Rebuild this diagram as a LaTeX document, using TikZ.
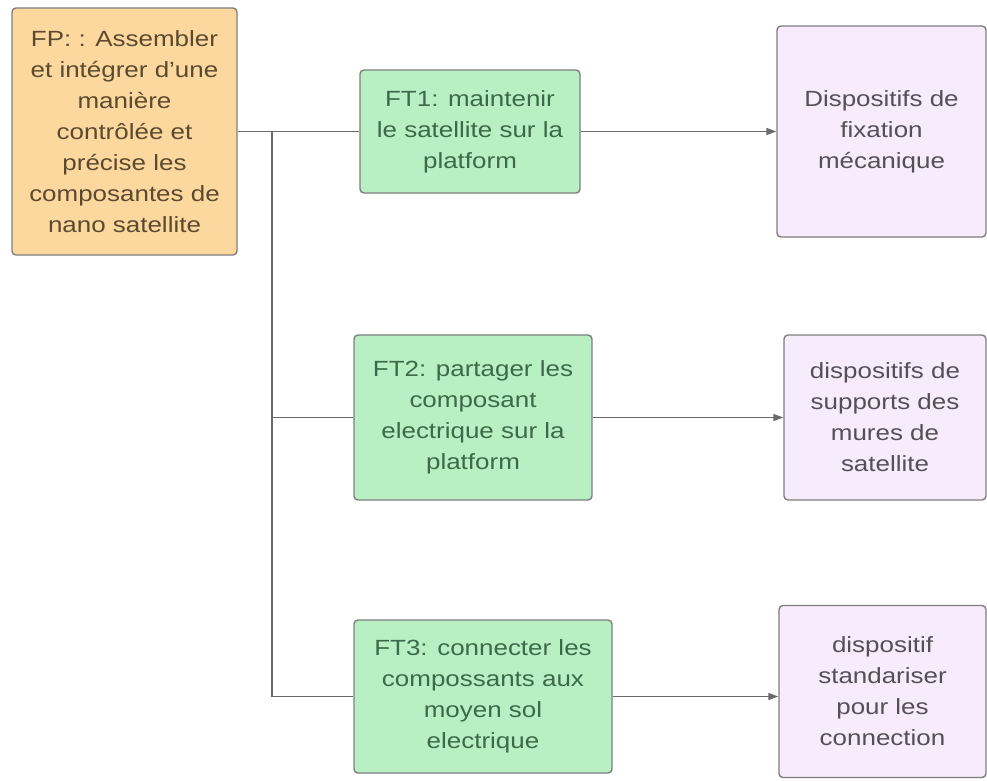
\documentclass[tikz,border=0pt]{standalone}
\usepackage{fontspec}
\setmainfont[FakeStretch=1.18]{Liberation Sans}
\usetikzlibrary{arrows.meta}
\definecolor{fporange}{HTML}{FDD89E}
\definecolor{ftgreen}{HTML}{B8F0C4}
\definecolor{dpurple}{HTML}{F8EBFC}
\definecolor{edgegray}{HTML}{7E7E7E}
\definecolor{linegray}{HTML}{6A6A6A}
\definecolor{fptext}{HTML}{5A4A30}
\definecolor{fttext}{HTML}{3C6A48}
\definecolor{dptext}{HTML}{555058}
\tikzset{
  boxbase/.style={draw=edgegray, line width=1.4pt, rounded corners=4pt, align=center, inner sep=0pt,
    font=\fontsize{22}{31}\selectfont},
  fpbox/.style={boxbase, fill=fporange, text=fptext, minimum width=225pt, minimum height=247pt},
  ftbox/.style={boxbase, fill=ftgreen, text=fttext},
  dpbox/.style={boxbase, fill=dpurple, text=dptext},
  conn/.style={draw=linegray, line width=1.4pt},
  arr/.style={conn, -{Triangle[length=10pt,width=7pt]}}
}
\begin{document}
\begin{tikzpicture}[x=1pt,y=-1pt]
\useasboundingbox[fill=white] (0,0) rectangle (987,780);
\node[fpbox] (fp) at (124.5,131.5) {FP: : Assembler\\et intégrer d'une\\manière\\contrôlée et\\précise les\\composantes de\\nano satellite};
\node[ftbox, minimum width=220pt, minimum height=123pt] (ft1) at (470,131.5) {FT1: maintenir\\le satellite sur la\\platform};
\node[ftbox, minimum width=238pt, minimum height=165pt] (ft2) at (473,417.5) {FT2: partager les\\composant\\electrique sur la\\platform};
\node[ftbox, minimum width=258pt, minimum height=153pt] (ft3) at (483,696.5) {FT3: connecter les\\compossants aux\\moyen sol\\electrique};
\node[dpbox, minimum width=209pt, minimum height=211pt] (d1) at (881.5,131.5) {Dispositifs de\\fixation\\mécanique};
\node[dpbox, minimum width=202pt, minimum height=165pt] (d2) at (885,417.5) {dispositifs de\\supports des\\mures de\\satellite};
\node[dpbox, minimum width=207pt, minimum height=172pt] (d3) at (882.5,691.5) {dispositif\\standariser\\pour les\\connection};
\coordinate (j1) at (272,131.5);
\coordinate (j2) at (272,417.5);
\coordinate (j3) at (272,696.5);
\draw[conn] (fp.east |- j1) -- (ft1.west);
\draw[conn] (j1) -- (j3) -- (ft3.west);
\draw[conn] (j2) -- (ft2.west);
\draw[arr] (ft1.east) -- (ft1.east -| d1.west);
\draw[arr] (ft2.east) -- (ft2.east -| d2.west);
\draw[arr] (ft3.east) -- (ft3.east -| d3.west);
\end{tikzpicture}
\end{document}
